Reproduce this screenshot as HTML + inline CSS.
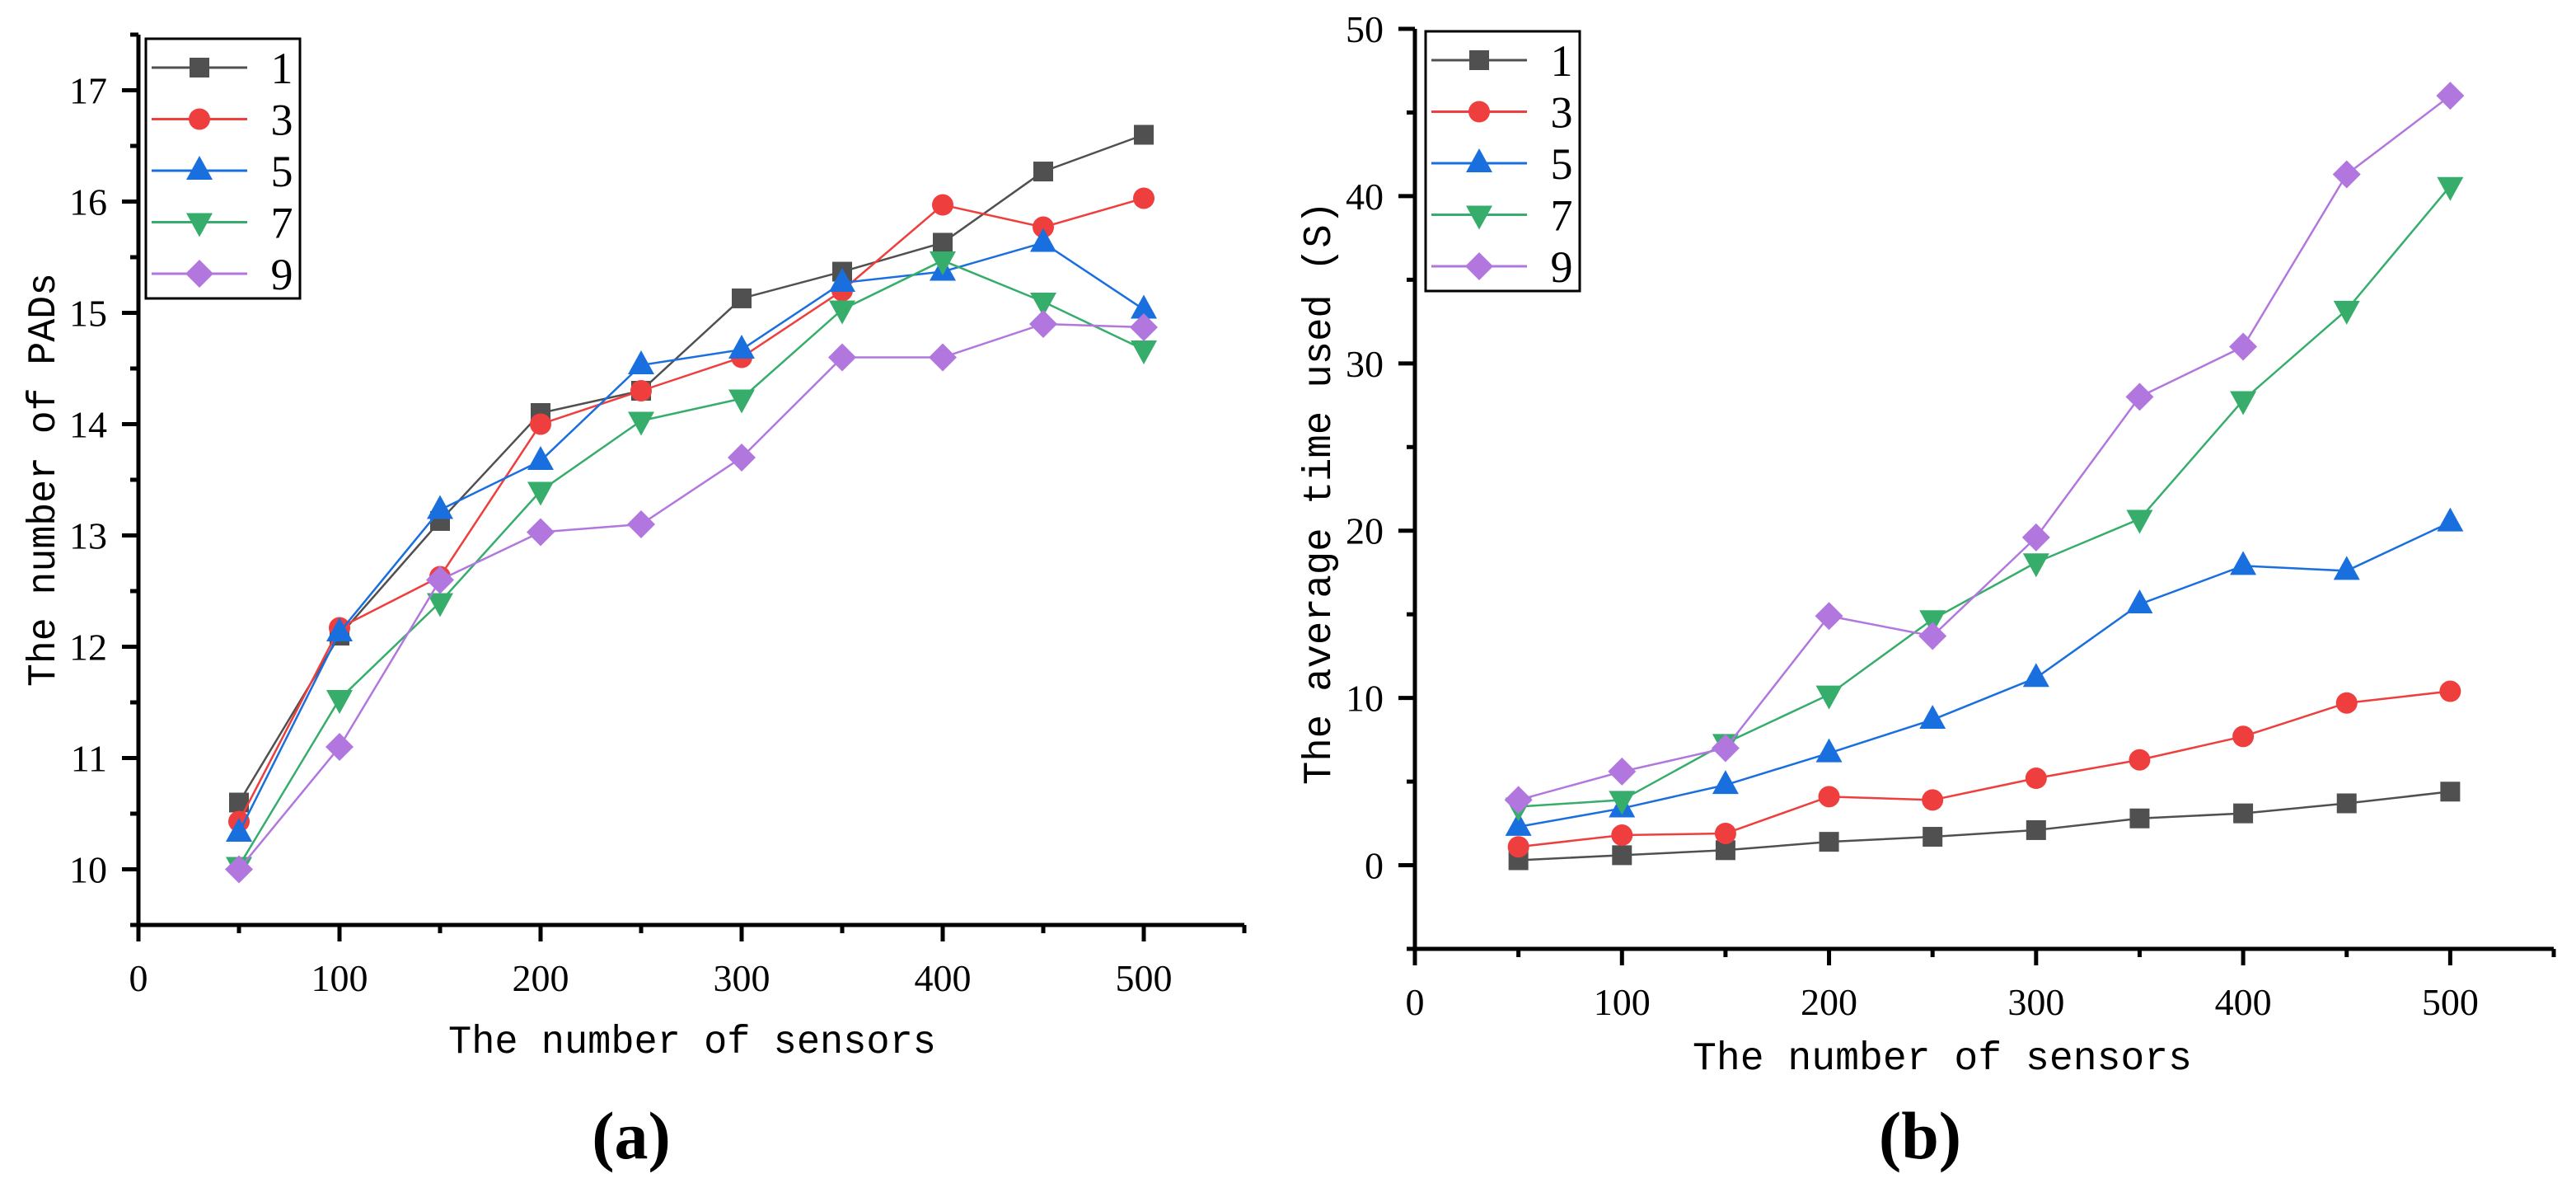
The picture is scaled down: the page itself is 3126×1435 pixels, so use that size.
<!DOCTYPE html>
<html><head><meta charset="utf-8"><style>
html,body{margin:0;padding:0;background:#fff;}
svg{display:block;}
text{font-family:"Liberation Serif",serif;fill:#000;}
.mono{font-family:"Liberation Mono",monospace;}
</style></head><body>
<svg id="fig" width="3126" height="1435" viewBox="0 0 3126 1435" xmlns="http://www.w3.org/2000/svg"></svg>
<script>
const categories = [50,100,150,200,250,300,350,400,450,500];
const seriesNames = ["1","3","5","7","9"];
const padsS1 = [10.6,12.1,13.13,14.1,14.3,15.13,15.37,15.63,16.27,16.6];
const padsS3 = [10.43,12.17,12.63,14.0,14.3,14.6,15.2,15.97,15.77,16.03];
const padsS5 = [10.33,12.13,13.23,13.67,14.53,14.67,15.27,15.37,15.63,15.03];
const padsS7 = [10.03,11.53,12.4,13.4,14.03,14.23,15.03,15.47,15.1,14.67];
const padsS9 = [10.0,11.1,12.6,13.03,13.1,13.7,14.6,14.6,14.9,14.87];
const timeS1 = [0.3,0.6,0.9,1.4,1.7,2.1,2.8,3.1,3.7,4.4];
const timeS3 = [1.1,1.8,1.9,4.1,3.9,5.2,6.3,7.7,9.7,10.4];
const timeS5 = [2.3,3.4,4.8,6.7,8.7,11.2,15.6,17.9,17.6,20.5];
const timeS7 = [3.5,3.9,7.3,10.2,14.7,18.1,20.7,27.8,33.2,40.6];
const timeS9 = [3.9,5.6,7.0,14.9,13.7,19.6,28.0,31.0,41.3,46.0];
const xTicks = [0,100,200,300,400,500];
const yTicksA = [10,11,12,13,14,15,16,17];
const yTicksB = [0,10,20,30,40,50];

const NS="http://www.w3.org/2000/svg";
const svg=document.getElementById('fig');
const colors=["#505050","#ef3e3e","#1a6fdf","#37ad6b","#b177de"];
const shapes=["square","circle","up","down","diamond"];
function mk(tag,attrs,parent){const e=document.createElementNS(NS,tag);for(const k in attrs)e.setAttribute(k,attrs[k]);(parent||svg).appendChild(e);return e;}
function marker(g,shape,x,y,c){
  let e;
  if(shape==="square")e=mk('rect',{x:x-12,y:y-12,width:24,height:24,fill:c},g);
  else if(shape==="circle")e=mk('circle',{cx:x,cy:y,r:13,fill:c},g);
  else if(shape==="up")e=mk('polygon',{points:`${x},${y-18} ${x+16},${y+11} ${x-16},${y+11}`,fill:c},g);
  else if(shape==="down")e=mk('polygon',{points:`${x},${y+18} ${x+16},${y-11} ${x-16},${y-11}`,fill:c},g);
  else e=mk('polygon',{points:`${x},${y-17} ${x+17},${y} ${x},${y+17} ${x-17},${y}`,fill:c},g);
  return e;
}
function chart(cfg){
  const g=mk('g',{});
  
  
  const sx=v=>cfg.x0+(v-0)*(cfg.x1-cfg.x0)/550;
  const sy=v=>cfg.yb-(v-cfg.ymin)*(cfg.yb-cfg.yt)/(cfg.ymax-cfg.ymin);
  cfg.series.forEach((arr,i)=>{
    const sg=mk('g',{},g);
    
    
    const pts=arr.map((v,j)=>sx(categories[j])+','+sy(v)).join(' ');
    const pl=mk('polyline',{points:pts,fill:'none',stroke:colors[i],'stroke-width':2.5},sg);
    
    
    arr.forEach((v,j)=>{const m=marker(sg,shapes[i],sx(categories[j]),sy(v),colors[i]);
      
      });
  });
  const ax=mk('g',{stroke:'#000','stroke-width':5},g);
  
  
  mk('line',{x1:cfg.x0,y1:cfg.yt,x2:cfg.x0,y2:cfg.yb+2},ax);
  mk('line',{x1:cfg.x0-2,y1:cfg.yb,x2:sx(550),y2:cfg.yb},ax);
  for(let v=0;v<=550;v+=50){const major=v%100===0;mk('line',{x1:sx(v),y1:cfg.yb,x2:sx(v),y2:cfg.yb+(major?20:10)},ax);}
  cfg.yTicks.forEach(v=>{mk('line',{x1:cfg.x0,y1:sy(v),x2:cfg.x0-20,y2:sy(v)},ax);});
  for(let v=cfg.ymin;v<=cfg.ymax+1e-9;v+=cfg.minor){if(cfg.yTicks.some(t=>Math.abs(t-v)<1e-9))continue;mk('line',{x1:cfg.x0,y1:sy(v),x2:cfg.x0-10,y2:sy(v)},ax);}
  xTicks.forEach(v=>{const t=mk('text',{x:sx(v),y:cfg.yb+80,'text-anchor':'middle','font-size':46},g);t.textContent=v;
    });
  cfg.yTicks.forEach(v=>{const t=mk('text',{x:cfg.x0-38,y:sy(v)+16,'text-anchor':'end','font-size':46},g);t.textContent=v;
    });
  const xt=mk('text',{class:'mono',x:cfg.xtX,y:cfg.xtY,textLength:cfg.xtL,lengthAdjust:'spacingAndGlyphs','font-size':48},g);
  xt.textContent="The number of sensors";
  
  const yt=mk('text',{class:'mono',x:0,y:0,textLength:cfg.ytL,lengthAdjust:'spacingAndGlyphs','font-size':48,transform:`translate(${cfg.ytX},${cfg.ytY}) rotate(-90)`},g);
  yt.textContent=cfg.ytitle;
  
  const lab=mk('text',{x:cfg.labX,y:1405,'text-anchor':'middle','font-size':82,'font-weight':'bold'},g);
  lab.textContent=cfg.label;
  
  const lg=mk('g',{},g);
  
  mk('rect',{x:cfg.lx,y:cfg.ly,width:187,height:315,fill:'#fff',stroke:'#000','stroke-width':3},lg);
  seriesNames.forEach((n,i)=>{
    const y=cfg.ly+35+i*62.5;
    const eg=mk('g',{},lg);
    
    mk('line',{x1:cfg.lx+7,y1:y,x2:cfg.lx+123,y2:y,stroke:colors[i],'stroke-width':3},eg);
    marker(eg,shapes[i],cfg.lx+65,y,colors[i]);
    const t=mk('text',{x:cfg.lx+165,y:y+19,'text-anchor':'middle','font-size':54},eg);t.textContent=n;
  });
}
chart({name:'chart-a-pads',x0:168,x1:1510,yt:42,yb:1122,ymin:9.5,ymax:17.5,minor:0.5,yTicks:yTicksA,
  series:[padsS1,padsS3,padsS5,padsS7,padsS9],xtX:544,xtY:1277,xtL:592,ytitle:"The number of PADs",ytX:66,ytY:833,ytL:502,
  label:"(a)",labX:766,lx:177,ly:47});
chart({name:'chart-b-time',x0:1717,x1:3099,yt:35,yb:1151,ymin:-5,ymax:50,minor:5,yTicks:yTicksB,
  series:[timeS1,timeS3,timeS5,timeS7,timeS9],xtX:2054,xtY:1297,xtL:606,ytitle:"The average time used (S)",ytX:1614,ytY:952,ytL:708,
  label:"(b)",labX:2330,lx:1730,ly:38});
</script>
</body></html>
